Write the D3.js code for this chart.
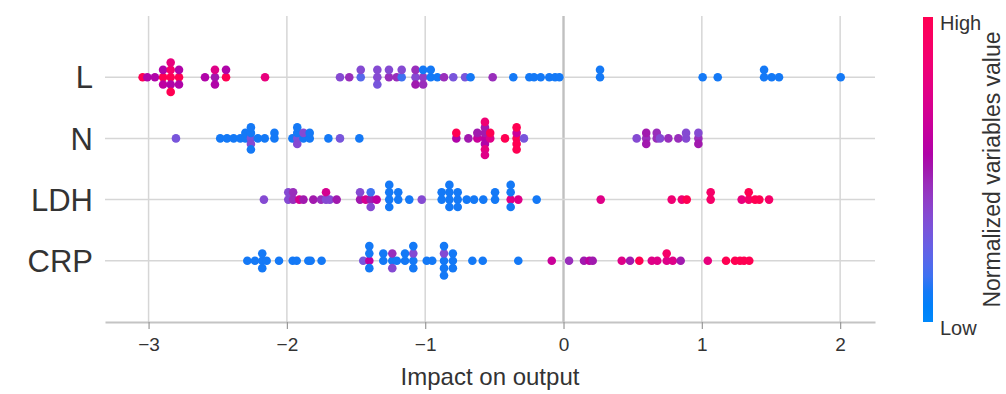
<!DOCTYPE html>
<html>
<head>
<meta charset="utf-8">
<script src="https://cdn.jsdelivr.net/npm/d3@7"></script>
<style>
  html, body { margin: 0; padding: 0; background: #fff; }
  svg { display: block; font-family: "Liberation Sans", Arial, sans-serif; }
</style>
</head>
<body>
<div id="chart"></div>
<script>
// features, top to bottom
const features = ['L', 'N', 'LDH', 'CRP'];

// impact on output (one entry per dot) and normalized variable value (0 = low, 1 = high)
const shapL = [-3.043, -3.009, -2.954, -2.895, -2.895, -2.895, -2.84, -2.84, -2.84, -2.84, -2.84,
  -2.78, -2.78, -2.78, -2.592, -2.52, -2.52, -2.52, -2.44, -2.44, -2.158,
  -1.616, -1.549, -1.466, -1.466, -1.346, -1.346, -1.346, -1.262, -1.262, -1.206, -1.17, -1.17,
  -1.07, -1.07, -1.07, -1.015, -1.015, -1.015, -0.96, -0.96, -0.912, -0.864, -0.797, -0.712, -0.672,
  -0.512, -0.363, -0.247, -0.213, -0.165, -0.103, -0.061, -0.030,
  0.264, 0.264, 1.006, 1.115, 1.45, 1.45, 1.505, 1.558, 2.004];
const valL = [1.0, 0.55, 0.55, 1.0, 0.55, 0.6, 1.0, 0.9, 0.55, 0.8, 1.0,
  1.0, 0.55, 0.55, 0.55, 0.5, 0.75, 0.55, 1.0, 0.55, 0.8,
  0.35, 0.45, 0.2, 0.35, 0.35, 0.35, 0.3, 0.45, 0.35, 0.45, 0.15, 0.35,
  0.35, 0.45, 0.5, 0.4, 0.1, 0.45, 0.1, 0.1, 0.1, 0.45, 0.3, 0.3, 0.1,
  0.45, 0.1, 0.1, 0.1, 0.1, 0.1, 0.1, 0.1,
  0.1, 0.1, 0.1, 0.1, 0.1, 0.1, 0.1, 0.1, 0.1];

const shapN = [-2.802, -2.482, -2.433, -2.385, -2.337, -2.30, -2.30,
  -2.26, -2.26, -2.26, -2.26, -2.26, -2.21, -2.16, -2.09, -2.09,
  -1.96, -1.925, -1.925, -1.925, -1.925, -1.88, -1.88, -1.835, -1.835,
  -1.70, -1.616, -1.476,
  -0.775, -0.775, -0.688, -0.623, -0.623,
  -0.568, -0.568, -0.568, -0.568, -0.568, -0.568, -0.568, -0.53, -0.53,
  -0.423, -0.339, -0.339, -0.339, -0.339, -0.339, -0.286,
  0.529, 0.598, 0.598, 0.598, 0.674, 0.674, 0.698, 0.758, 0.830, 0.886, 0.886,
  0.975, 0.975, 0.975];
const valN = [0.3, 0.1, 0.1, 0.1, 0.1, 0.1, 0.1,
  0.3, 0.1, 0.35, 0.1, 0.1, 0.1, 0.1, 0.1, 0.1,
  0.1, 0.3, 0.1, 0.35, 0.1, 0.1, 0.35, 0.1, 0.1,
  0.1, 0.3, 0.1,
  0.55, 1.0, 0.5, 0.65, 0.5,
  0.6, 0.5, 0.55, 0.5, 0.8, 0.85, 0.75, 0.75, 1.0,
  1.0, 1.0, 0.65, 1.0, 1.0, 1.0, 0.3,
  0.35, 0.45, 0.5, 0.5, 0.45, 0.45, 0.35, 0.45, 0.45, 0.35, 0.35,
  0.45, 0.35, 0.5];

const shapLDH = [-2.166, -1.99, -1.99, -1.955, -1.955, -1.91, -1.88, -1.809, -1.753,
  -1.717, -1.717, -1.69, -1.64,
  -1.471, -1.471, -1.43, -1.394, -1.394, -1.394, -1.351,
  -1.26, -1.26, -1.26, -1.26, -1.195, -1.195, -1.115, -1.025,
  -0.881, -0.881, -0.825, -0.825, -0.825, -0.825, -0.765, -0.765, -0.765,
  -0.70, -0.647, -0.58, -0.495, -0.495, -0.382, -0.382, -0.382, -0.382, -0.327, -0.194,
  0.269, 0.782, 0.855, 0.891, 1.064, 1.064, 1.288, 1.339, 1.339, 1.385, 1.416, 1.486];
const valLDH = [0.35, 0.35, 0.35, 0.45, 0.45, 0.7, 0.5, 0.5, 0.45,
  0.35, 0.7, 0.35, 0.5,
  0.5, 0.35, 0.7, 0.5, 0.15, 0.35, 0.6,
  0.1, 0.1, 0.1, 0.1, 0.1, 0.1, 0.1, 0.35,
  0.1, 0.1, 0.1, 0.1, 0.1, 0.1, 0.1, 0.1, 0.1,
  0.1, 0.1, 0.1, 0.1, 0.1, 0.75, 0.1, 0.1, 0.1, 0.75, 0.1,
  0.75, 0.85, 0.85, 1.0, 0.9, 0.9, 0.8, 0.9, 1.0, 1.0, 1.0, 0.9];

const shapCRP = [-2.286, -2.231, -2.178, -2.178, -2.178, -2.146, -2.057, -1.958, -1.929,
  -1.845, -1.828, -1.749,
  -1.448, -1.404, -1.404, -1.404, -1.404, -1.303, -1.303, -1.238, -1.238, -1.238, -1.205,
  -1.146, -1.146, -1.086, -1.086, -1.086, -1.086, -0.989, -0.949,
  -0.864, -0.864, -0.864, -0.864, -0.864, -0.80, -0.80, -0.80, -0.659, -0.584, -0.327,
  -0.085, 0.04, 0.148, 0.187, 0.211, 0.421, 0.481, 0.548, 0.638, 0.678, 0.746, 0.746,
  0.79, 0.847, 1.043, 1.175, 1.24, 1.276, 1.305, 1.343];
const valCRP = [0.1, 0.1, 0.1, 0.1, 0.1, 0.1, 0.1, 0.1, 0.1,
  0.1, 0.1, 0.1,
  0.3, 0.6, 0.1, 0.1, 0.1, 0.1, 0.1, 0.1, 0.45, 0.35, 0.1,
  0.1, 0.1, 0.1, 0.35, 0.1, 0.1, 0.1, 0.1,
  0.1, 0.35, 0.1, 0.1, 0.1, 0.1, 0.1, 0.1, 0.1, 0.1, 0.1,
  0.65, 0.45, 0.5, 0.6, 0.5, 0.75, 0.5, 1.0, 0.75, 0.75, 0.75, 0.9,
  0.75, 0.5, 0.8, 1.0, 1.0, 1.0, 1.0, 1.0];

const xTicks = [-3, -2, -1, 0, 1, 2];

const rows = [
  { name: features[0], shap: shapL, val: valL },
  { name: features[1], shap: shapN, val: valN },
  { name: features[2], shap: shapLDH, val: valLDH },
  { name: features[3], shap: shapCRP, val: valCRP }
];

const width = 1006, height = 394;
const plot = { left: 105, right: 875, top: 16, bottom: 322 };

const x = d3.scaleLinear().domain([-3.315, 2.252]).range([plot.left, plot.right]);
const y = d3.scaleLinear().domain([-1, features.length]).range([plot.bottom, plot.top]);

// shap red_blue map: lch path from blue to red with a darker middle
function shapColor(t) {
  t = Math.max(0, Math.min(1, t));
  const l = t < 0.5 ? 54 - 28 * t : 40 + 28 * (t - 0.5);
  const c = 70 + 20 * t;
  const h = (4.6588 + (0.35470565 + 2 * Math.PI - 4.6588) * t) * 180 / Math.PI;
  return d3.hcl(h, c, l).formatRgb();
}

// beeswarm offsets the way shap does it: bin, then stack up/down alternately
function swarm(vals) {
  const mn = d3.min(vals), mx = d3.max(vals);
  const quant = vals.map(v => Math.round(100 * (v - mn) / (mx - mn + 1e-8)));
  const order = d3.range(vals.length).sort((a, b) => quant[a] - quant[b] || a - b);
  const ys = new Array(vals.length).fill(0);
  let layer = 0, last = -1;
  order.forEach(i => {
    if (quant[i] !== last) layer = 0;
    ys[i] = Math.ceil(layer / 2) * ((layer % 2) * 2 - 1);
    layer++;
    last = quant[i];
  });
  const m = d3.max(ys, v => v + 1);
  return ys.map(v => v * 0.9 * (0.4 / m));
}

const svg = d3.select('#chart').append('svg')
  .attr('width', width)
  .attr('height', height);

// vertical grid
svg.append('g').selectAll('line')
  .data(xTicks)
  .enter().append('line')
  .attr('x1', d => x(d)).attr('x2', d => x(d))
  .attr('y1', plot.top).attr('y2', plot.bottom)
  .attr('stroke', d => d === 0 ? '#c0c0c0' : '#d6d6d6')
  .attr('stroke-width', d => d === 0 ? 2.4 : 1.5);

// row lines
svg.append('g').selectAll('line')
  .data(rows)
  .enter().append('line')
  .attr('x1', plot.left).attr('x2', plot.right)
  .attr('y1', (d, i) => y(features.length - 1 - i))
  .attr('y2', (d, i) => y(features.length - 1 - i))
  .attr('stroke', '#d6d6d6')
  .attr('stroke-width', 1.5);

// dots
rows.forEach((row, i) => {
  const pos = features.length - 1 - i;
  const offs = swarm(row.shap);
  svg.append('g').selectAll('circle')
    .data(row.shap)
    .enter().append('circle')
    .attr('cx', d => x(d))
    .attr('cy', (d, j) => y(pos + offs[j]))
    .attr('r', 4.3)
    .attr('fill', (d, j) => shapColor(row.val[j]));
});

// feature labels
svg.append('g').selectAll('text')
  .data(features)
  .enter().append('text')
  .attr('x', 93)
  .attr('y', (d, i) => y(features.length - 1 - i))
  .attr('dy', '0.36em')
  .attr('text-anchor', 'end')
  .attr('font-size', 31)
  .attr('fill', '#333')
  .text(d => d);

// x axis
const xAxis = svg.append('g')
  .attr('transform', 'translate(0,' + plot.bottom + ')')
  .call(d3.axisBottom(x).tickValues(xTicks).tickFormat(d3.format('d'))
    .tickSize(7).tickSizeOuter(0).tickPadding(9));
xAxis.select('.domain').attr('stroke', '#c4c4c4').attr('stroke-width', 2);
xAxis.selectAll('.tick line').attr('stroke', '#999').attr('stroke-width', 1.2);
xAxis.selectAll('.tick text')
  .attr('font-size', 19)
  .attr('font-family', '"Liberation Sans", Arial, sans-serif')
  .attr('fill', '#333');

svg.append('text')
  .attr('x', (plot.left + plot.right) / 2)
  .attr('y', 385)
  .attr('text-anchor', 'middle')
  .attr('font-size', 24)
  .attr('fill', '#333')
  .text('Impact on output');

// colorbar
const cb = { x: 923, w: 10, top: 17, bottom: 322 };
const grad = svg.append('defs').append('linearGradient')
  .attr('id', 'cbar')
  .attr('x1', 0).attr('y1', 1).attr('x2', 0).attr('y2', 0);
grad.selectAll('stop')
  .data(d3.range(0, 1.0001, 0.05))
  .enter().append('stop')
  .attr('offset', d => d)
  .attr('stop-color', d => shapColor(d));
svg.append('rect')
  .attr('x', cb.x).attr('y', cb.top)
  .attr('width', cb.w).attr('height', cb.bottom - cb.top)
  .attr('fill', 'url(#cbar)');

svg.append('text')
  .attr('x', cb.x + cb.w + 7).attr('y', cb.top + 13)
  .attr('font-size', 20).attr('fill', '#333')
  .text('High');
svg.append('text')
  .attr('x', cb.x + cb.w + 7).attr('y', cb.bottom + 13)
  .attr('font-size', 20).attr('fill', '#333')
  .text('Low');
svg.append('text')
  .attr('transform', 'translate(1000,' + ((cb.top + cb.bottom) / 2) + ') rotate(-90)')
  .attr('text-anchor', 'middle')
  .attr('font-size', 23)
  .attr('fill', '#333')
  .text('Normalized variables value');
</script>
</body>
</html>
